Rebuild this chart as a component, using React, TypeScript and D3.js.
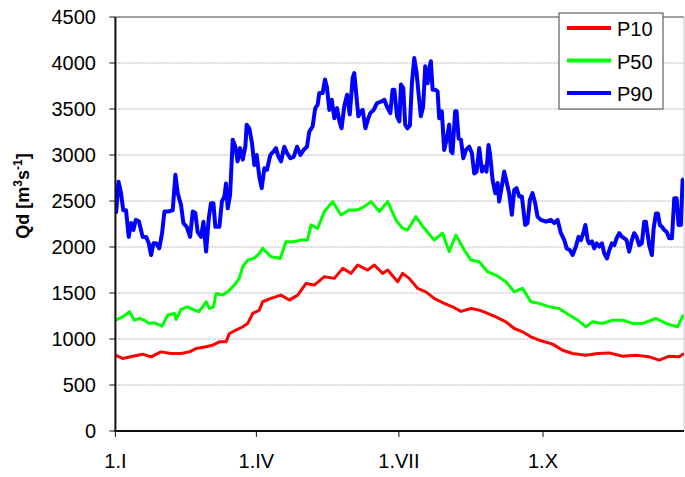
import React from "react";
import * as d3 from "d3";

const yTicks = [0, 500, 1000, 1500, 2000, 2500, 3000, 3500, 4000, 4500];
const xTickDays = [0, 90, 181, 273];
const xTickLabels = ["1.I", "1.IV", "1.VII", "1.X"];
const seriesNames = ["P10", "P50", "P90"];
const seriesColors = ["#ff0000", "#00ff00", "#0000ff"];

const p10Days = [0, 4.7, 11, 17.4, 22.8, 29.1, 35.5, 41.9, 47.2, 51.5, 57.9, 62.1, 66.4, 70.6, 72.8, 77, 81.3, 84.5, 87.7, 91.9, 94, 99.3, 105.7, 111, 116.4, 121.7, 127, 133.4, 139.8, 145.1, 150.4, 154.7, 161, 165.3, 170.6, 173.8, 180.2, 183.3, 187.6, 192.9, 198.2, 203.5, 209.9, 215.2, 220.6, 227, 232.3, 237.6, 242.9, 249.3, 254.6, 259.9, 265.2, 270.6, 279.1, 285.5, 291.9, 300.4, 307.8, 315.3, 323.8, 332.3, 340.8, 347.2, 353.6, 360, 363];
const p10Values = [824, 788, 813, 835, 806, 860, 842, 842, 860, 896, 915, 933, 969, 969, 1060, 1096, 1133, 1169, 1278, 1314, 1405, 1441, 1477, 1423, 1477, 1604, 1586, 1677, 1659, 1768, 1713, 1804, 1749, 1804, 1713, 1749, 1622, 1713, 1659, 1550, 1513, 1441, 1387, 1350, 1300, 1332, 1314, 1278, 1241, 1187, 1114, 1078, 1024, 987, 944, 878, 842, 824, 842, 849, 813, 824, 806, 770, 813, 806, 842];

const p50Days = [0, 4.7, 9, 12, 15.3, 18.5, 21.7, 24.9, 29.8, 33.4, 37.7, 38.7, 41.9, 46.2, 50.4, 53.2, 55.7, 57.9, 60, 62.6, 64.3, 68.5, 71.7, 76, 79.1, 81.3, 84.5, 88.7, 91.9, 94, 99.3, 105.3, 108.9, 114.2, 118.5, 122.7, 124.9, 129.1, 133.4, 138.7, 144, 149.3, 154.7, 158.9, 163.2, 168.5, 173.8, 179.1, 183.4, 186.5, 191.8, 197.2, 203.5, 208.9, 213.1, 217.4, 222.7, 227, 232.3, 237.6, 242.9, 249.3, 254.6, 259.9, 265.2, 270.6, 277, 283.4, 289.7, 295.1, 300.4, 304.6, 311, 317.4, 324, 330.2, 336.6, 345.1, 351.5, 358.9, 362.1, 363];
const p50Values = [1205, 1241, 1296, 1205, 1223, 1205, 1169, 1176, 1140, 1260, 1278, 1212, 1321, 1350, 1314, 1296, 1350, 1405, 1332, 1350, 1495, 1477, 1513, 1586, 1659, 1786, 1858, 1880, 1930, 1985, 1895, 1876, 2058, 2058, 2076, 2076, 2240, 2203, 2385, 2493, 2348, 2403, 2403, 2439, 2493, 2385, 2493, 2294, 2203, 2185, 2330, 2203, 2076, 2149, 1949, 2130, 1967, 1858, 1840, 1731, 1695, 1622, 1513, 1550, 1405, 1387, 1350, 1332, 1260, 1205, 1132, 1187, 1169, 1205, 1205, 1169, 1169, 1223, 1169, 1132, 1248, 1260];

const p90Days = [0, 0.5, 2, 3.6, 5, 6.8, 8.5, 10, 11.5, 13, 15, 17.4, 19.6, 21.3, 22.8, 24.3, 26, 28, 29.8, 31.3, 33.4, 36.6, 38.3, 39.8, 41.9, 43.4, 45.5, 47.7, 49.4, 51, 52.5, 54.7, 56.2, 57.9, 59.6, 61, 62.6, 63.8, 66.4, 68, 69.6, 70.6, 71.7, 73.2, 74.9, 76.6, 78, 79.6, 81.3, 83, 83.8, 85.5, 87.2, 88.7, 90.2, 91.9, 93.4, 95.1, 96.8, 98.9, 101, 102.5, 104, 105.7, 107.8, 109.6, 111.7, 113.8, 116, 118.1, 120.2, 122.3, 123.8, 125.9, 127.6, 129.1, 130.2, 132.3, 133.8, 135.1, 136.6, 138.1, 139.8, 141.5, 143, 144.4, 146.1, 147.9, 149.6, 151.5, 152.5, 153.6, 155.1, 156.8, 157.9, 159.6, 161.5, 162.7, 164.9, 167, 169.6, 171.7, 173.4, 175.5, 177, 178.1, 179.8, 181.3, 182.3, 183.8, 185, 186.5, 188, 189.3, 190.8, 192.3, 193.5, 195, 196.5, 197.8, 199.3, 200.4, 201.4, 202.5, 204.2, 205.7, 206.7, 208.4, 209.9, 211.4, 213.1, 214.2, 215.2, 216.9, 217.8, 219.1, 220.6, 222.1, 223.8, 225.9, 227.6, 229.1, 230.6, 232.3, 234, 235.5, 236.9, 238.2, 239.1, 240.8, 242.5, 244, 245, 246.7, 248.2, 249.7, 251.4, 253.1, 254.6, 256.1, 257.8, 259.5, 261.6, 263.1, 264.6, 266.3, 268, 269.5, 271.6, 274.9, 278, 280.2, 282.3, 284.4, 286.6, 288.1, 290.2, 291.9, 294, 295.7, 297.2, 298.7, 300, 301.5, 302.5, 304.2, 305.7, 307.2, 308.9, 310.6, 312.1, 313.8, 315.3, 317, 318.5, 320, 321.7, 323.4, 324.9, 326.3, 328, 329.7, 331.2, 332.7, 334.4, 336.1, 337.6, 338.7, 339.7, 340.8, 342.5, 343.6, 345.1, 346.3, 347.6, 348.9, 350.4, 351.9, 353.6, 355.3, 356.8, 358.3, 359.5, 361, 362.1, 363];
const p90Values = [2480, 2380, 2710, 2585, 2400, 2400, 2110, 2260, 2185, 2295, 2280, 2110, 2110, 2040, 1913, 2040, 2040, 1985, 2150, 2385, 2385, 2400, 2785, 2585, 2457, 2260, 2220, 2110, 2385, 2370, 2165, 2110, 2275, 1950, 2310, 2475, 2475, 2220, 2220, 2495, 2550, 2690, 2420, 2560, 3165, 3090, 2930, 3075, 2950, 3095, 3330, 3290, 3130, 2890, 3000, 2760, 2640, 2855, 2840, 3000, 3040, 3075, 2985, 2930, 3090, 3020, 2965, 2980, 3090, 3000, 3055, 3090, 3255, 3310, 3510, 3545, 3673, 3673, 3820, 3730, 3490, 3600, 3400, 3510, 3365, 3290, 3530, 3655, 3440, 3840, 3890, 3690, 3420, 3475, 3490, 3290, 3400, 3455, 3490, 3565, 3580, 3600, 3525, 3455, 3710, 3710, 3420, 3365, 3765, 3728, 3330, 3290, 3320, 3780, 4055, 3890, 3675, 3420, 3530, 3965, 3780, 3930, 4020, 3710, 3710, 3690, 3400, 3475, 3055, 3165, 3330, 3040, 3020, 3475, 3475, 3180, 3165, 2965, 3055, 3090, 3020, 2800, 2820, 3075, 2820, 2875, 2820, 3110, 3020, 2730, 2585, 2695, 2495, 2660, 2820, 2710, 2585, 2350, 2620, 2640, 2550, 2550, 2240, 2260, 2510, 2585, 2475, 2330, 2295, 2275, 2295, 2260, 2295, 2150, 2075, 1985, 1965, 1913, 2005, 2110, 2075, 2150, 2240, 2075, 2040, 2060, 1985, 2040, 2005, 2040, 1930, 1875, 1965, 2040, 2020, 2095, 2150, 2110, 2095, 2075, 1950, 2075, 2150, 2110, 2020, 2040, 2275, 2275, 2150, 2020, 1913, 2200, 2365, 2365, 2240, 2220, 2185, 2165, 2095, 2095, 2530, 2530, 2240, 2240, 2730, 2740];

const W = 685;
const H = 477;
const FONT = "'Liberation Sans', Arial, sans-serif";

export default function App() {
  const x = d3.scaleLinear().domain([0, 363]).range([115.4, 684]);
  const y = d3.scaleLinear().domain([0, 4500]).range([431, 17]);
  const line = d3
    .line<[number, number]>()
    .x((d) => x(d[0]))
    .y((d) => y(d[1]));

  const series = [
    { days: p10Days, values: p10Values, width: 3 },
    { days: p50Days, values: p50Values, width: 3 },
    { days: p90Days, values: p90Values, width: 4 },
  ];

  const left = x(0);
  const right = x(363);

  return (
    <svg
      width={W}
      height={H}
      style={{ position: "absolute", left: 0, top: 0, background: "#fff" }}
      fontFamily={FONT}
    >
      <defs>
        <clipPath id="plot">
          <rect x={left} y={0} width={right - left} height={H} />
        </clipPath>
      </defs>
      {yTicks.slice(1, -1).map((t) => (
        <line
          key={"g" + t}
          x1={left}
          x2={right}
          y1={y(t)}
          y2={y(t)}
          stroke="#b4b4b4"
          strokeWidth={1}
          strokeDasharray="2 1"
        />
      ))}
      <line x1={left} x2={right} y1={y(4500)} y2={y(4500)} stroke="#808080" strokeWidth={1.5} />
      <line x1={right} x2={right} y1={y(4500)} y2={y(0)} stroke="#c8c8c8" strokeWidth={1} />

      <g clipPath="url(#plot)">
        {series.map((s, i) => (
          <path
            key={seriesNames[i]}
            d={line(s.days.map((d, j) => [d, s.values[j]] as [number, number])) || ""}
            fill="none"
            stroke={seriesColors[i]}
            strokeWidth={s.width}
            strokeLinejoin="round"
          />
        ))}
      </g>

      <line x1={left} x2={left} y1={y(4500)} y2={y(0) + 1} stroke="#111" strokeWidth={2} />
      <line x1={left - 1} x2={right} y1={y(0)} y2={y(0)} stroke="#111" strokeWidth={2} />
      {yTicks.map((t) => (
        <g key={"yt" + t}>
          <line x1={left - 6} x2={left} y1={y(t)} y2={y(t)} stroke="#111" strokeWidth={1} />
          <text x={96} y={y(t) + 7} textAnchor="end" fontSize={20} fill="#000">
            {t}
          </text>
        </g>
      ))}
      {xTickDays.map((d, i) => (
        <g key={"xt" + d}>
          <line x1={x(d)} x2={x(d)} y1={y(0)} y2={y(0) + 6} stroke="#111" strokeWidth={1} />
          <text x={x(d)} y={468} textAnchor="middle" fontSize={20} fill="#000">
            {xTickLabels[i]}
          </text>
        </g>
      ))}

      <text
        transform="translate(29,196) rotate(-90)"
        textAnchor="middle"
        fontSize={18}
        fontWeight="bold"
        fill="#000"
      >
        Qd [m
        <tspan fontSize={12} dy={-7}>3</tspan>
        <tspan dy={7}>s</tspan>
        <tspan fontSize={12} dy={-7}>-1</tspan>
        <tspan dy={7}>]</tspan>
      </text>

      <rect x={559} y={13} width={104} height={96} fill="#fff" stroke="#404040" strokeWidth={1} />
      {seriesNames.map((n, i) => {
        const ly = 28 + i * 32.5;
        return (
          <g key={"lg" + n}>
            <line x1={567} x2={611} y1={ly} y2={ly} stroke={seriesColors[i]} strokeWidth={4} />
            <text x={617} y={ly + 8} fontSize={20} fill="#000">
              {n}
            </text>
          </g>
        );
      })}
    </svg>
  );
}
